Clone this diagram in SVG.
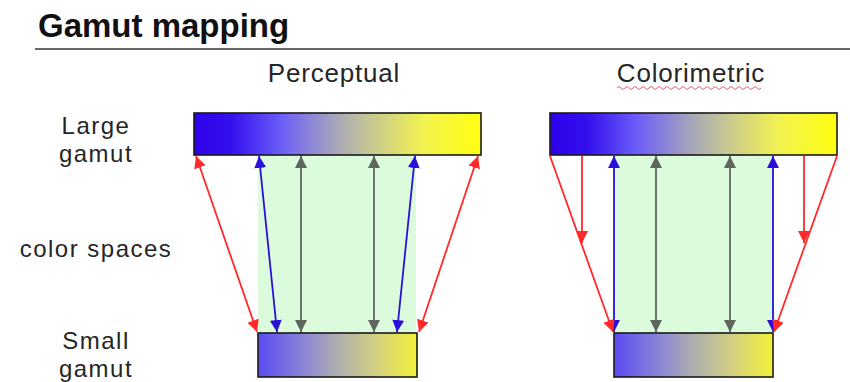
<svg xmlns="http://www.w3.org/2000/svg" width="850" height="382" viewBox="0 0 850 382">
<style>
text{font-family:"Liberation Sans",Arial,sans-serif;fill:#262626}
.lbl{font-size:26px;letter-spacing:0.8px;text-anchor:middle}
.side{font-size:24px;letter-spacing:1.5px;text-anchor:middle}
.bar{stroke:#1a1a1a;stroke-width:1.6}
.area{fill:#dcfadc}
.r{stroke:#ff2a2a;stroke-width:1.8;fill:none}
.b{stroke:#2a10d8;stroke-width:1.8;fill:none}
.g{stroke:#5e665e;stroke-width:1.8;fill:none}
</style>
<defs>
<linearGradient id="gl" x1="0" x2="1" y1="0" y2="0">
<stop offset="0" stop-color="#2e00ea"/>
<stop offset="0.13" stop-color="#3410ee"/>
<stop offset="0.3" stop-color="#6a5cf8"/>
<stop offset="0.5" stop-color="#a8a8b8"/>
<stop offset="0.62" stop-color="#c8c890"/>
<stop offset="0.8" stop-color="#f2f250"/>
<stop offset="1" stop-color="#ffff10"/>
</linearGradient>
<linearGradient id="gs" x1="0" x2="1" y1="0" y2="0">
<stop offset="0" stop-color="#5a4cf2"/>
<stop offset="0.3" stop-color="#8c88d4"/>
<stop offset="0.5" stop-color="#aeaeae"/>
<stop offset="0.75" stop-color="#d4d080"/>
<stop offset="1" stop-color="#f2f038"/>
</linearGradient>
<marker id="mr" viewBox="0 0 10 10" refX="10" refY="5" markerWidth="12" markerHeight="12" markerUnits="userSpaceOnUse" orient="auto-start-reverse"><path d="M0,0 L10,5 L0,10 z" fill="#ff2a2a"/></marker>
<marker id="mb" viewBox="0 0 10 10" refX="10" refY="5" markerWidth="12" markerHeight="12" markerUnits="userSpaceOnUse" orient="auto-start-reverse"><path d="M0,0 L10,5 L0,10 z" fill="#2a10d8"/></marker>
<marker id="mg" viewBox="0 0 10 10" refX="10" refY="5" markerWidth="12" markerHeight="12" markerUnits="userSpaceOnUse" orient="auto-start-reverse"><path d="M0,0 L10,5 L0,10 z" fill="#5e665e"/></marker>
</defs>
<rect width="850" height="382" fill="#ffffff"/>
<g id="title">
<text x="38" y="37" style="font-size:33px;font-weight:bold;fill:#111">Gamut mapping</text>
<line x1="35" y1="49" x2="850" y2="49" stroke="#333" stroke-width="1.6"/>
</g>
<g id="heading-perceptual"><text class="lbl" x="334" y="82">Perceptual</text></g>
<g id="heading-colorimetric"><text class="lbl" x="691" y="82">Colorimetric</text>
<path d="M617,88 q2,-3 4,0 t4,0 t4,0 t4,0 t4,0 t4,0 t4,0 t4,0 t4,0 t4,0 t4,0 t4,0 t4,0 t4,0 t4,0 t4,0 t4,0 t4,0 t4,0 t4,0 t4,0 t4,0 t4,0 t4,0 t4,0 t4,0 t4,0 t4,0 t4,0 t4,0 t4,0 t4,0 t4,0 t4,0 t4,0 t4,0" fill="none" stroke="#e06070" stroke-width="1"/></g>
<g id="label-large"><text class="side" x="96" y="134">Large</text><text class="side" x="96" y="162">gamut</text></g>
<g id="label-colorspaces"><text class="side" x="96" y="257">color spaces</text></g>
<g id="label-small"><text class="side" x="96" y="349">Small</text><text class="side" x="96" y="377">gamut</text></g>
<g id="perceptual-area"><rect class="area" x="258" y="155" width="158" height="178"/></g>
<g id="colorimetric-area"><rect class="area" x="614" y="155" width="159" height="178"/></g>
<g id="perceptual-large"><rect class="bar" x="194" y="113" width="287" height="42" fill="url(#gl)"/></g>
<g id="perceptual-small"><rect class="bar" x="258" y="333" width="159" height="44" fill="url(#gs)"/></g>
<g id="colorimetric-large"><rect class="bar" x="550" y="113" width="287" height="42" fill="url(#gl)"/></g>
<g id="colorimetric-small"><rect class="bar" x="614" y="333" width="159" height="44" fill="url(#gs)"/></g>
<g id="connectors">
<line class="r" x1="196" y1="156" x2="257" y2="332" marker-start="url(#mr)" marker-end="url(#mr)"/>
<line class="b" x1="259" y1="156" x2="277" y2="332" marker-start="url(#mb)" marker-end="url(#mb)"/>
<line class="g" x1="301" y1="156" x2="301" y2="332" marker-start="url(#mg)" marker-end="url(#mg)"/>
<line class="g" x1="374" y1="156" x2="374" y2="332" marker-start="url(#mg)" marker-end="url(#mg)"/>
<line class="b" x1="415" y1="156" x2="397" y2="332" marker-start="url(#mb)" marker-end="url(#mb)"/>
<line class="r" x1="478" y1="156" x2="419" y2="332" marker-start="url(#mr)" marker-end="url(#mr)"/>
<line class="r" x1="582" y1="156" x2="582" y2="243" marker-end="url(#mr)"/>
<line class="r" x1="804" y1="156" x2="804" y2="243" marker-end="url(#mr)"/>
<line class="b" x1="614" y1="156" x2="614" y2="332" marker-start="url(#mb)" marker-end="url(#mb)"/>
<line class="g" x1="656" y1="156" x2="656" y2="332" marker-start="url(#mg)" marker-end="url(#mg)"/>
<line class="g" x1="730" y1="156" x2="730" y2="332" marker-start="url(#mg)" marker-end="url(#mg)"/>
<line class="b" x1="773" y1="156" x2="773" y2="332" marker-start="url(#mb)" marker-end="url(#mb)"/>
<line class="r" x1="550" y1="156" x2="613" y2="332" marker-end="url(#mr)"/>
<line class="r" x1="837" y1="156" x2="774" y2="332" marker-end="url(#mr)"/>
</g>
</svg>
